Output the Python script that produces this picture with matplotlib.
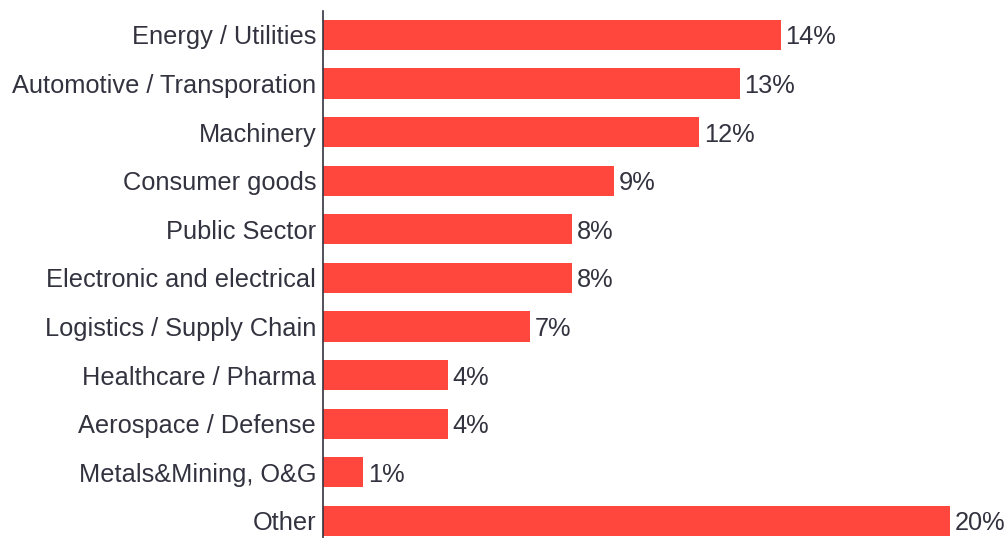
import matplotlib

matplotlib.use("Agg")
import matplotlib.pyplot as plt

# sector shares (bar lengths) and the printed labels
CATEGORIES = [
    "Energy / Utilities",
    "Automotive / Transporation",
    "Machinery",
    "Consumer goods",
    "Public Sector",
    "Electronic and electrical",
    "Logistics / Supply Chain",
    "Healthcare / Pharma",
    "Aerospace / Defense",
    "Metals&Mining, O&G",
    "Other",
]
VALUES = [14.6, 13.3, 12.0, 9.3, 7.95, 7.95, 6.6, 4.0, 4.0, 1.3, 20.0]
LABELS = ["14%", "13%", "12%", "9%", "8%", "8%", "7%", "4%", "4%", "1%", "20%"]

BAR_COLOR = "#ff473d"
TEXT_COLOR = "#333340"
FS = 18.3

plt.rcParams["font.family"] = ["Liberation Sans", "DejaVu Sans"]

fig = plt.figure(figsize=(10.06, 5.38), dpi=100)
ax = fig.add_axes([322.5 / 1006, 0.0, (950 - 322.5) / 1006, 527 / 538])

y = list(range(len(CATEGORIES)))
bars = ax.barh(y, VALUES, height=0.62, color=BAR_COLOR)

for bar, lab in zip(bars, LABELS):
    ax.text(bar.get_width() + 0.15, bar.get_y() + bar.get_height() / 2, lab,
            ha="left", va="center_baseline", fontsize=FS, color=TEXT_COLOR,
            clip_on=False)

ax.set_yticks(y)
ax.set_yticklabels(CATEGORIES, fontsize=FS, color=TEXT_COLOR, va="center_baseline")
ax.tick_params(axis="y", length=0, pad=4.5)
ax.set_xticks([])
ax.set_xlim(0, 20)
ax.set_ylim(len(CATEGORIES) - 1 + 0.35, -0.49)

for side in ("top", "right", "bottom"):
    ax.spines[side].set_visible(False)
ax.spines["left"].set_color("#333340")
ax.spines["left"].set_linewidth(1.2)

fig.savefig("out.png", dpi=100)
